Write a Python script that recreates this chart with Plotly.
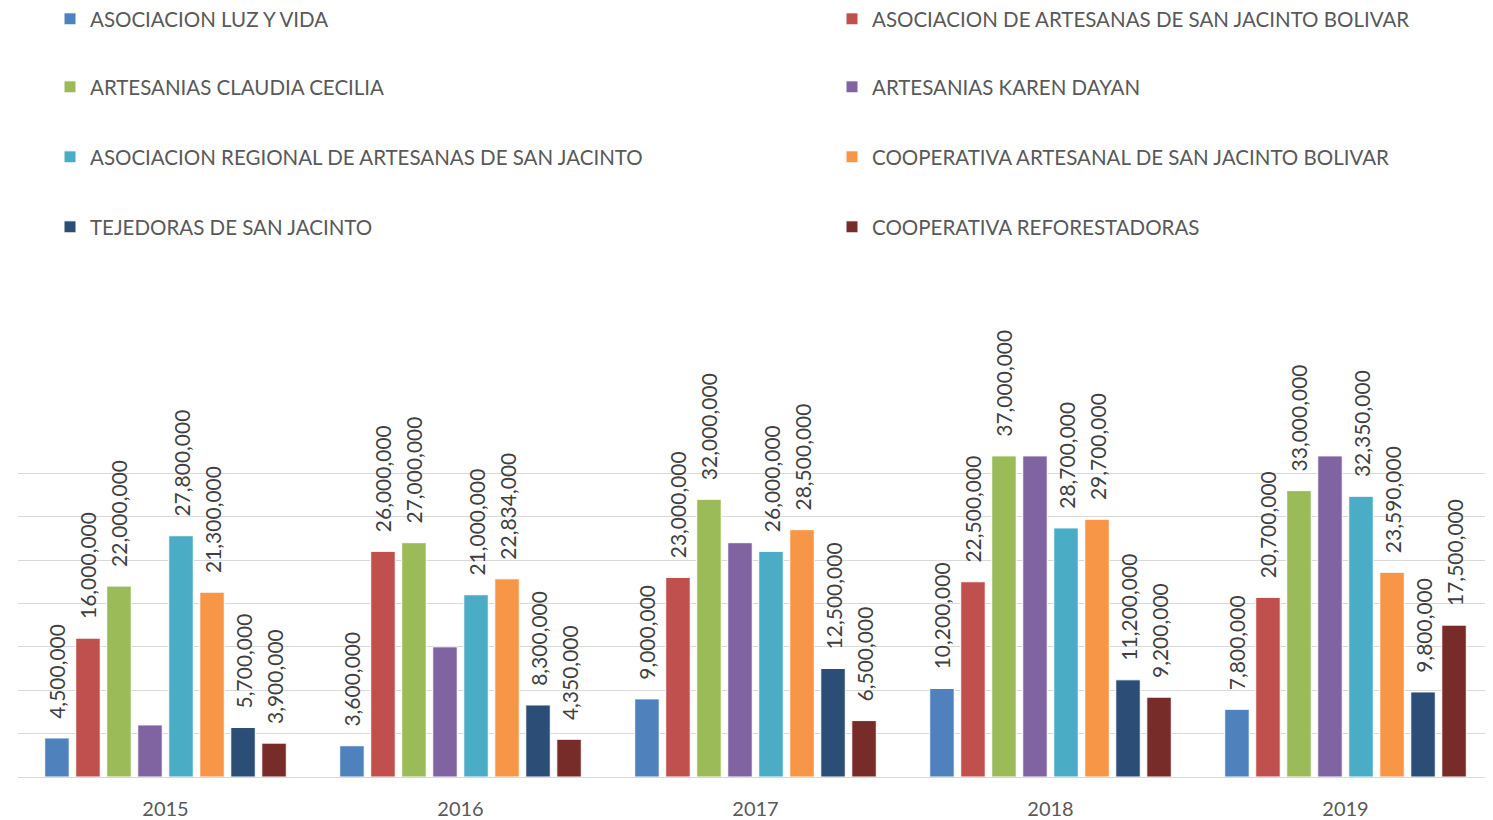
import plotly.graph_objects as go

years = ["2015", "2016", "2017", "2018", "2019"]

series_names = [
    "ASOCIACION LUZ Y VIDA",
    "ASOCIACION DE ARTESANAS DE SAN JACINTO BOLIVAR",
    "ARTESANIAS CLAUDIA CECILIA",
    "ARTESANIAS KAREN DAYAN",
    "ASOCIACION REGIONAL DE ARTESANAS DE SAN JACINTO",
    "COOPERATIVA ARTESANAL DE SAN JACINTO BOLIVAR",
    "TEJEDORAS DE SAN JACINTO",
    "COOPERATIVA REFORESTADORAS",
]

luz_y_vida = [4500000, 3600000, 9000000, 10200000, 7800000]
artesanas_bolivar = [16000000, 26000000, 23000000, 22500000, 20700000]
claudia_cecilia = [22000000, 27000000, 32000000, 37000000, 33000000]
karen_dayan = [6000000, 15000000, 27000000, 37000000, 37000000]
regional_artesanas = [27800000, 21000000, 26000000, 28700000, 32350000]
coop_artesanal = [21300000, 22834000, 28500000, 29700000, 23590000]
tejedoras = [5700000, 8300000, 12500000, 11200000, 9800000]
reforestadoras = [3900000, 4350000, 6500000, 9200000, 17500000]

series_values = [luz_y_vida, artesanas_bolivar, claudia_cecilia, karen_dayan,
                 regional_artesanas, coop_artesanal, tejedoras, reforestadoras]
show_labels = [True, True, True, False, True, True, True, True]

colors = ["#4F81BD", "#C0504D", "#9BBB59", "#8064A2",
          "#4BACC6", "#F79646", "#2C4D75", "#772C2A"]

FONT = "Lato, Carlito, Calibri, sans-serif"

fig = go.Figure()
for i, (name, vals) in enumerate(zip(series_names, series_values)):
    txt = ["\u00a0\u00a0\u00a0" + f"{v:,}" for v in vals] if show_labels[i] else None
    fig.add_trace(go.Bar(
        name=name, x=years, y=vals,
        marker=dict(color=colors[i], line=dict(color="white", width=1)),
        text=txt, textposition="outside", textangle=-90,
        constraintext="none", cliponaxis=False,
        textfont=dict(family=FONT, size=21, color="#404040"),
        legend="legend" if i == 0 else f"legend{i+1}",
        hoverinfo="x+y+name",
    ))

# page offset of the figure (default body margin)
OFF = 8
plot_left, plot_width = 18, 1475
plot_top, plot_bottom = 429, 777
plot_height = plot_bottom - plot_top
legend_layout = {}
for i in range(8):
    col = i % 2
    row = i // 2
    px_x = [50, 832][col]
    px_y = [19, 87, 157, 227][row]
    key = "legend" if i == 0 else f"legend{i+1}"
    legend_layout[key] = dict(
        x=(px_x - plot_left) / plot_width,
        y=(plot_bottom - px_y) / plot_height,
        xanchor="left", yanchor="middle",
        bgcolor="rgba(0,0,0,0)",
        font=dict(family=FONT, size=20.5, color="#595959"),
        itemclick=False, itemdoubleclick=False,
    )

fig.update_layout(
    width=1493 - OFF, height=820 - OFF,
    margin=dict(l=plot_left - OFF, r=0, t=plot_top - OFF, b=820 - plot_bottom,
                autoexpand=False),
    paper_bgcolor="white", plot_bgcolor="white",
    barmode="group", bargap=0.159, bargroupgap=0.21,
    showlegend=True,
    font=dict(family=FONT, color="#595959"),
    xaxis=dict(tickfont=dict(family=FONT, size=20, color="#595959"),
               showgrid=False, showline=False, ticks="",
               ticklabelstandoff=18),
    yaxis=dict(range=[0, 40100000], dtick=5000000, showticklabels=False,
               showgrid=True, gridcolor="#D9D9D9", gridwidth=1,
               zeroline=True, zerolinecolor="#D9D9D9", zerolinewidth=1),
    **legend_layout,
)

fig.write_html("out.html")
